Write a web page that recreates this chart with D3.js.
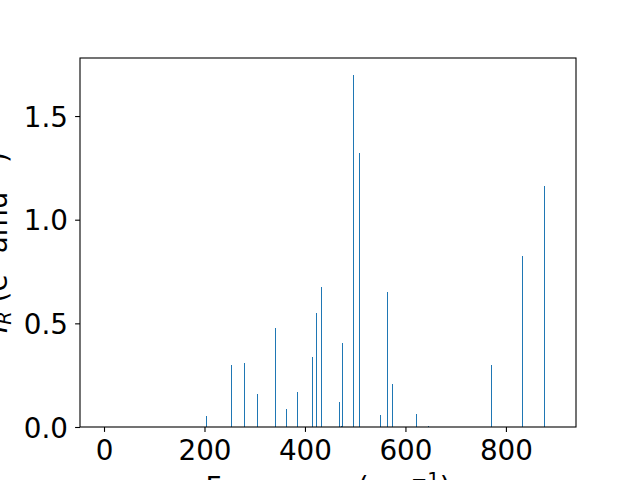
<!DOCTYPE html>
<html>
<head>
<meta charset="utf-8">
<script src="https://cdn.jsdelivr.net/npm/d3@7"></script>
<style>
  html, body { margin: 0; padding: 0; background: #fff; }
  svg { display: block; font-family: "DejaVu Sans", sans-serif; }
</style>
</head>
<body>
<svg id="chart" width="640" height="480"></svg>
<script>
// Data
const frequencies = [204, 253, 279, 305, 341, 363, 385, 414.5, 422.5, 432.5, 468, 472, 474, 496, 508, 550, 564, 574, 621.5, 645, 771, 832.5, 876];
const intensities = [0.053, 0.299, 0.308, 0.159, 0.477, 0.087, 0.168, 0.337, 0.549, 0.673, 0.12, 0.005, 0.405, 1.70, 1.32, 0.058, 0.650, 0.207, 0.063, 0.005, 0.299, 0.824, 1.161];
const xTicks = [0, 200, 400, 600, 800];
const yTicks = [0.0, 0.5, 1.0, 1.5];
const barWidth = 2;

const svg = d3.select("#chart");
const margin = { left: 80, top: 58, right: 64, bottom: 53 };
const W = 640, H = 480;
const iw = W - margin.left - margin.right;
const ih = H - margin.top - margin.bottom;

const x = d3.scaleLinear().domain([-47.8, 939.5]).range([0, iw]);
const y = d3.scaleLinear().domain([0, 1.78]).range([ih, 0]);

const g = svg.append("g").attr("transform", `translate(${margin.left},${margin.top})`);

const data = frequencies.map((f, i) => ({ f, v: intensities[i] }));

g.selectAll("rect.bar").data(data).enter().append("rect")
  .attr("class", "bar")
  .attr("x", d => Math.round(x(d.f) - 0.5))
  .attr("width", d => Math.max(1, Math.round(x(d.f + barWidth / 2) - x(d.f - barWidth / 2))))
  .attr("y", d => y(d.v))
  .attr("height", d => y(0) - y(d.v))
  .attr("shape-rendering", "crispEdges")
  .attr("fill", "#1f77b4");

const fs = 27.8;

// X axis
const xAxis = g.append("g").attr("transform", `translate(0,${ih})`)
  .call(d3.axisBottom(x).tickValues(xTicks).tickFormat(d3.format("d")).tickSizeInner(4.9).tickSizeOuter(0).tickPadding(4.9));
xAxis.select(".domain").remove();
xAxis.selectAll("line").attr("stroke", "#000").attr("stroke-width", 1.1);
xAxis.selectAll("text").attr("font-size", fs).attr("font-family", "DejaVu Sans").attr("fill", "#000")
  .attr("dy", null).attr("y", 33.3);

// Y axis
const yAxis = g.append("g")
  .call(d3.axisLeft(y).tickValues(yTicks).tickFormat(d3.format(".1f")).tickSizeInner(4.9).tickSizeOuter(0).tickPadding(4.9));
yAxis.select(".domain").remove();
yAxis.selectAll("line").attr("stroke", "#000").attr("stroke-width", 1.1);
yAxis.selectAll("text").attr("font-size", fs).attr("font-family", "DejaVu Sans").attr("fill", "#000")
  .attr("dy", "0.36em").attr("x", -12);

// Frame
g.append("rect").attr("x", 0).attr("y", 0).attr("width", iw).attr("height", ih)
  .attr("fill", "none").attr("stroke", "#000").attr("stroke-width", 1.1);

// X label
const xl = svg.append("text")
  .attr("x", margin.left + iw / 2).attr("y", 496.5)
  .attr("text-anchor", "middle").attr("font-size", fs).attr("fill", "#000");
xl.append("tspan").text("Frequency (cm");
xl.append("tspan").attr("font-size", fs * 0.7).attr("dy", -11).text("−1");
xl.append("tspan").attr("dy", 11).text(")");

// Y label
const yl = svg.append("text")
  .attr("transform", `translate(7.3,${margin.top + ih / 2}) rotate(-90)`)
  .attr("text-anchor", "middle").attr("font-size", fs).attr("fill", "#000");
yl.append("tspan").attr("font-style", "italic").text("I");
yl.append("tspan").attr("font-style", "italic").attr("font-size", fs * 0.7).attr("dy", 4).text("R");
yl.append("tspan").attr("dy", -4).text(" (e");
yl.append("tspan").attr("font-size", fs * 0.7).attr("dy", -11).text("2");
yl.append("tspan").attr("dy", 11).text(" amu");
yl.append("tspan").attr("font-size", fs * 0.7).attr("dy", -11).text("−1");
yl.append("tspan").attr("dy", 11).text(")");
</script>
</body>
</html>
